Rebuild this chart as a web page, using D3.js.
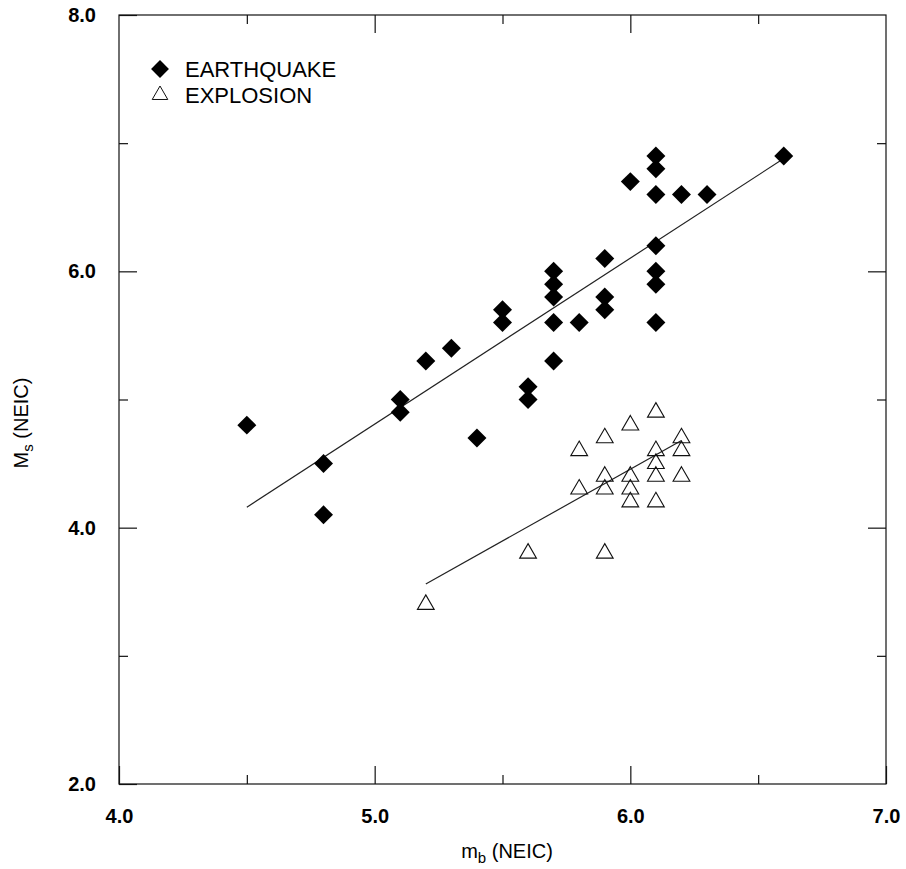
<!DOCTYPE html>
<html>
<head>
<meta charset="utf-8">
<script src="https://cdn.jsdelivr.net/npm/d3@7"></script>
<style>
  html, body { margin: 0; padding: 0; background: #fff; }
  svg { display: block; }
  text { font-family: "Liberation Sans", Arial, Helvetica, sans-serif; fill: #000; }
</style>
</head>
<body>
<svg id="chart" width="906" height="869"></svg>
<script>
// Body-wave magnitude (mb) vs surface-wave magnitude (Ms), NEIC catalogue
const eqMb = [4.5, 4.8, 4.8, 5.1, 5.1, 5.2, 5.3, 5.4, 5.5, 5.5, 5.6, 5.6,
              5.7, 5.7, 5.7, 5.7, 5.7, 5.8, 5.9, 5.9, 5.9, 6.0,
              6.1, 6.1, 6.1, 6.1, 6.1, 6.1, 6.1, 6.2, 6.3, 6.6];
const eqMs = [4.8, 4.5, 4.1, 5.0, 4.9, 5.3, 5.4, 4.7, 5.7, 5.6, 5.1, 5.0,
              6.0, 5.9, 5.8, 5.6, 5.3, 5.6, 6.1, 5.8, 5.7, 6.7,
              6.9, 6.8, 6.6, 6.2, 6.0, 5.9, 5.6, 6.6, 6.6, 6.9];

const exMb = [5.2, 5.6, 5.8, 5.8, 5.9, 5.9, 5.9, 5.9, 6.0, 6.0, 6.0, 6.0,
              6.1, 6.1, 6.1, 6.1, 6.1, 6.2, 6.2, 6.2];
const exMs = [3.4, 3.8, 4.6, 4.3, 4.7, 4.4, 4.3, 3.8, 4.8, 4.4, 4.3, 4.2,
              4.9, 4.6, 4.5, 4.4, 4.2, 4.7, 4.6, 4.4];

// Least-squares fit lines, given by their end points [mb, Ms]
const eqFitMb = [4.5, 6.6];
const eqFitMs = [4.16, 6.88];
const exFitMb = [5.2, 6.2];
const exFitMs = [3.56, 4.68];

const xMajor = [4, 5, 6, 7];
const xMinor = [4.5, 5.5, 6.5];
const yMajor = [2, 4, 6, 8];
const yMinor = [3, 5, 7];

const legendLabels = ["EARTHQUAKE", "EXPLOSION"];

const svg = d3.select("#chart");
const plotL = 119, plotR = 886, plotT = 15, plotB = 784;

const x = d3.scaleLinear().domain([4, 7]).range([plotL, plotR]);
const y = d3.scaleLinear().domain([2, 8]).range([plotB, plotT]);

const fmt = d3.format(".1f");
const majorLen = 18, minorLen = 9;

// Frame
svg.append("rect")
  .attr("x", plotL).attr("y", plotT)
  .attr("width", plotR - plotL).attr("height", plotB - plotT)
  .attr("fill", "none").attr("stroke", "#111").attr("stroke-width", 1.2);

function styleAxis(g) {
  g.select(".domain").remove();
  g.selectAll(".tick line").attr("stroke", "#111").attr("stroke-width", 1.2);
  g.selectAll(".tick text")
    .style("font-family", '"Liberation Sans", Arial, sans-serif')
    .style("font-size", "20px").style("font-weight", "bold").attr("fill", "#000");
}

// Bottom axis: labelled majors, inward ticks
svg.append("g").attr("transform", `translate(0,${plotB})`)
  .call(d3.axisBottom(x).tickValues(xMajor).tickFormat(fmt)
    .tickSizeInner(-majorLen).tickSizeOuter(0).tickPadding(25))
  .call(styleAxis);
svg.append("g").attr("transform", `translate(0,${plotB})`)
  .call(d3.axisBottom(x).tickValues(xMinor).tickFormat("")
    .tickSizeInner(-minorLen).tickSizeOuter(0))
  .call(styleAxis);

// Top axis ticks
svg.append("g").attr("transform", `translate(0,${plotT})`)
  .call(d3.axisTop(x).tickValues(xMajor.slice(1, -1)).tickFormat("")
    .tickSizeInner(-majorLen).tickSizeOuter(0))
  .call(styleAxis);
svg.append("g").attr("transform", `translate(0,${plotT})`)
  .call(d3.axisTop(x).tickValues(xMinor).tickFormat("")
    .tickSizeInner(-minorLen).tickSizeOuter(0))
  .call(styleAxis);

// Left axis
svg.append("g").attr("transform", `translate(${plotL},0)`)
  .call(d3.axisLeft(y).tickValues(yMajor).tickFormat(fmt)
    .tickSizeInner(-majorLen).tickSizeOuter(0).tickPadding(23))
  .call(styleAxis);
svg.append("g").attr("transform", `translate(${plotL},0)`)
  .call(d3.axisLeft(y).tickValues(yMinor).tickFormat("")
    .tickSizeInner(-minorLen).tickSizeOuter(0))
  .call(styleAxis);

// Right axis ticks
svg.append("g").attr("transform", `translate(${plotR},0)`)
  .call(d3.axisRight(y).tickValues(yMajor.slice(1, -1)).tickFormat("")
    .tickSizeInner(-majorLen).tickSizeOuter(0))
  .call(styleAxis);
svg.append("g").attr("transform", `translate(${plotR},0)`)
  .call(d3.axisRight(y).tickValues(yMinor).tickFormat("")
    .tickSizeInner(-minorLen).tickSizeOuter(0))
  .call(styleAxis);

// Square-on-point diamond symbol
const squareDiamond = {
  draw(ctx, size) {
    const r = Math.sqrt(size / 2);
    ctx.moveTo(0, -r); ctx.lineTo(r, 0); ctx.lineTo(0, r); ctx.lineTo(-r, 0); ctx.closePath();
  }
};
const diamondPath = d3.symbol().type(squareDiamond).size(180)();
const trianglePath = d3.symbol().type(d3.symbolTriangle).size(122)();

// Fit lines
const line = d3.line().x(d => x(d[0])).y(d => y(d[1]));
svg.append("path")
  .datum(d3.zip(eqFitMb, eqFitMs))
  .attr("d", line).attr("fill", "none")
  .attr("stroke", "#222").attr("stroke-width", 1.2);
svg.append("path")
  .datum(d3.zip(exFitMb, exFitMs))
  .attr("d", line).attr("fill", "none")
  .attr("stroke", "#222").attr("stroke-width", 1.2);

// Explosions
svg.append("g").selectAll("path")
  .data(d3.zip(exMb, exMs))
  .join("path")
  .attr("d", trianglePath)
  .attr("transform", d => `translate(${x(d[0])},${y(d[1])})`)
  .attr("fill", "none").attr("stroke", "#111").attr("stroke-width", 1.1);

// Earthquakes
svg.append("g").selectAll("path")
  .data(d3.zip(eqMb, eqMs))
  .join("path")
  .attr("d", diamondPath)
  .attr("transform", d => `translate(${x(d[0])},${y(d[1])})`)
  .attr("fill", "#000");

// Legend
const legend = svg.append("g");
const lg = [
  { label: legendLabels[0], sym: d3.symbol().type(squareDiamond).size(160)(), fill: "#000", stroke: "none" },
  { label: legendLabels[1], sym: d3.symbol().type(d3.symbolTriangle).size(105)(), fill: "none", stroke: "#111" }
];
lg.forEach((d, i) => {
  const cy = 69 + i * 26;
  legend.append("path").attr("d", d.sym)
    .attr("transform", `translate(160,${cy})`)
    .attr("fill", d.fill).attr("stroke", d.stroke).attr("stroke-width", 1);
  legend.append("text")
    .attr("x", 185).attr("y", cy + 8)
    .style("font-size", "22px")
    .text(d.label);
});

// Axis titles
const xt = svg.append("text")
  .attr("x", 507).attr("y", 858)
  .attr("text-anchor", "middle")
  .style("font-size", "20px");
xt.append("tspan").text("m");
xt.append("tspan").attr("dy", 5).style("font-size", "15px").text("b");
xt.append("tspan").attr("dy", -5).text(" (NEIC)");

const yt = svg.append("text")
  .attr("transform", "translate(28,423) rotate(-90)")
  .attr("text-anchor", "middle")
  .style("font-size", "20px");
yt.append("tspan").text("M");
yt.append("tspan").attr("dy", 5).style("font-size", "15px").text("s");
yt.append("tspan").attr("dy", -5).text(" (NEIC)");
</script>
</body>
</html>
